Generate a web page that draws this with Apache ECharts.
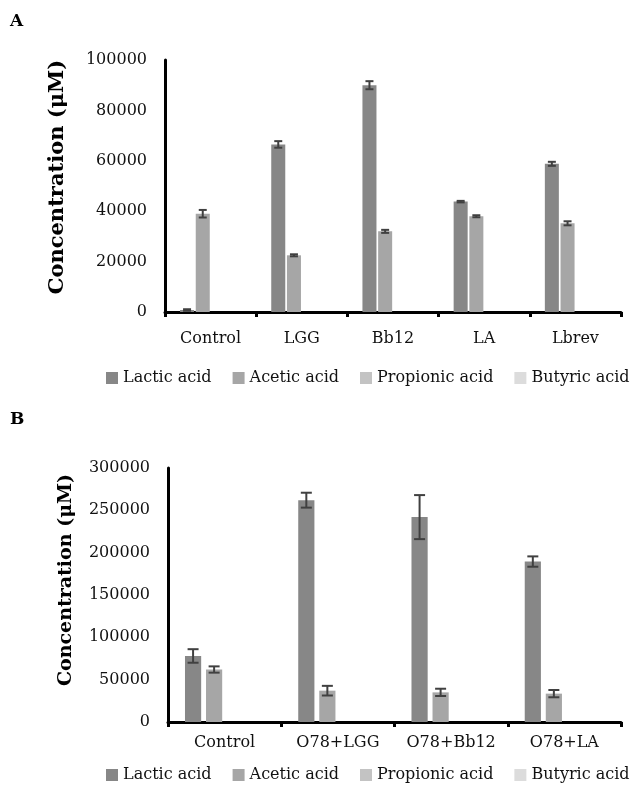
<!DOCTYPE html>
<html>
<head>
<meta charset="utf-8">
<script src="https://cdn.jsdelivr.net/npm/echarts@6/dist/echarts.min.js"></script>
<style>
html,body{margin:0;padding:0;background:#fff;}
#chart{width:633px;height:794px;}
</style>
</head>
<body>
<div id="chart"></div>
<script>
const seriesNames = ['Lactic acid', 'Acetic acid', 'Propionic acid', 'Butyric acid'];
const seriesColors = ['#878787', '#a6a6a6', '#c3c3c3', '#dcdcdc'];

// Panel A
const categoriesA = ['Control', 'LGG', 'Bb12', 'LA', 'Lbrev'];
const lacticA = [800, 66500, 90000, 43800, 58800];
const aceticA = [39000, 22500, 32000, 38000, 35200];
const propionicA = [0, 0, 0, 0, 0];
const butyricA = [0, 0, 0, 0, 0];
const lacticErrA = [300, 1300, 1600, 300, 800];
const aceticErrA = [1500, 400, 600, 400, 800];

// Panel B
const categoriesB = ['Control', 'O78+LGG', 'O78+Bb12', 'O78+LA'];
const lacticB = [78000, 262000, 242000, 189500];
const aceticB = [62000, 37000, 35000, 33500];
const propionicB = [0, 0, 0, 0];
const butyricB = [0, 0, 0, 0];
const lacticErrB = [8000, 8800, 26000, 6100];
const aceticErrB = [3700, 5700, 4300, 4300];

const FONT = 'DejaVu Serif';
const chart = echarts.init(document.getElementById('chart'));

function errRender(seriesIdx, nSeries, catGap, barGap, capHalf) {
  return function (params, api) {
    const cat = api.value(0), v = api.value(1), e = api.value(2);
    const c = api.coord([cat, v]);
    const band = api.size([1, 0])[0];
    const total = band * (1 - catGap);
    const w = total / (nSeries + (nSeries - 1) * barGap);
    const x = c[0] - total / 2 + seriesIdx * w * (1 + barGap) + w / 2;
    const top = api.coord([cat, v + e])[1];
    const bot = api.coord([cat, v - e])[1];
    const st = { stroke: '#404040', lineWidth: 2 };
    return {
      type: 'group',
      children: [
        { type: 'line', shape: { x1: x, y1: top, x2: x, y2: bot }, style: st },
        { type: 'line', shape: { x1: x - capHalf, y1: top, x2: x + capHalf, y2: top }, style: st },
        { type: 'line', shape: { x1: x - capHalf, y1: bot, x2: x + capHalf, y2: bot }, style: st }
      ]
    };
  };
}

function barSeries(idx, data, axisIdx, catGap, barGap) {
  return {
    name: seriesNames[idx], type: 'bar', xAxisIndex: axisIdx, yAxisIndex: axisIdx,
    data: data, itemStyle: { color: seriesColors[idx] },
    barCategoryGap: catGap, barGap: barGap, silent: true, z: 2
  };
}

function errSeries(name, vals, errs, axisIdx, seriesIdx, catGap, barGap, capHalf) {
  return {
    name: name, type: 'custom', xAxisIndex: axisIdx, yAxisIndex: axisIdx,
    renderItem: errRender(seriesIdx, 4, catGap, barGap, capHalf),
    data: vals.map((v, i) => [i, v, errs[i]]), z: 5, silent: true
  };
}

const xAxisCommon = {
  type: 'category',
  axisLine: { lineStyle: { color: '#000', width: 3 } },
  axisTick: { show: true, length: 5, lineStyle: { color: '#000', width: 3 } },
  axisLabel: { color: '#111', fontFamily: FONT, fontSize: 16, interval: 0 }
};
const yAxisCommon = {
  type: 'value', min: 0,
  axisLine: { show: true, lineStyle: { color: '#000', width: 3 } },
  axisTick: { show: false },
  splitLine: { show: false },
  nameLocation: 'middle', nameRotate: 90,
  axisLabel: { color: '#111', fontFamily: FONT, fontSize: 16, margin: 18,
    formatter: function (v) { return String(v); } }
};

const legendCommon = {
  data: seriesNames, icon: 'rect', itemWidth: 12, itemHeight: 12, itemGap: 21,
  orient: 'horizontal', width: 600, padding: 0,
  textStyle: { fontFamily: FONT, fontSize: 16, color: '#111' }, selectedMode: false
};

chart.setOption({
  animation: false,
  backgroundColor: '#fff',
  graphic: [
    { type: 'text', left: 10, top: 13, style: { text: 'A', font: 'bold 17px "DejaVu Serif"', fill: '#000' } },
    { type: 'text', left: 10, top: 411, style: { text: 'B', font: 'bold 17px "DejaVu Serif"', fill: '#000' } }
  ],
  legend: [
    Object.assign({ left: 106, top: 370 }, legendCommon),
    Object.assign({ left: 106, top: 767 }, legendCommon)
  ],
  grid: [
    { left: 165, right: 12, top: 60, height: 252 },
    { left: 168, right: 12, top: 468, height: 254 }
  ],
  xAxis: [
    Object.assign({}, xAxisCommon, { gridIndex: 0, data: categoriesA,
      axisLabel: Object.assign({}, xAxisCommon.axisLabel, { margin: 19 }) }),
    Object.assign({}, xAxisCommon, { gridIndex: 1, data: categoriesB,
      axisLabel: Object.assign({}, xAxisCommon.axisLabel, { margin: 13 }) })
  ],
  yAxis: [
    Object.assign({}, yAxisCommon, { gridIndex: 0, max: 100000, interval: 20000,
      name: 'Concentration (μM)', nameGap: 97,
      nameTextStyle: { fontFamily: FONT, fontWeight: 'bold', fontSize: 21, color: '#000',
        padding: [0, 0, 0, 18] } }),
    Object.assign({}, yAxisCommon, { gridIndex: 1, max: 300000, interval: 50000,
      name: 'Concentration (μM)', nameGap: 92,
      nameTextStyle: { fontFamily: FONT, fontWeight: 'bold', fontSize: 19, color: '#000',
        padding: [0, 0, 0, 30] } })
  ],
  series: [
    barSeries(0, lacticA, 0, '33%', '12%'),
    barSeries(1, aceticA, 0, '33%', '12%'),
    barSeries(2, propionicA, 0, '33%', '12%'),
    barSeries(3, butyricA, 0, '33%', '12%'),
    errSeries('errLacticA', lacticA, lacticErrA, 0, 0, 0.33, 0.12, 4),
    errSeries('errAceticA', aceticA, aceticErrA, 0, 1, 0.33, 0.12, 4),
    barSeries(0, lacticB, 1, '30%', '30%'),
    barSeries(1, aceticB, 1, '30%', '30%'),
    barSeries(2, propionicB, 1, '30%', '30%'),
    barSeries(3, butyricB, 1, '30%', '30%'),
    errSeries('errLacticB', lacticB, lacticErrB, 1, 0, 0.30, 0.30, 5.5),
    errSeries('errAceticB', aceticB, aceticErrB, 1, 1, 0.30, 0.30, 5.5)
  ]
});
</script>
</body>
</html>
